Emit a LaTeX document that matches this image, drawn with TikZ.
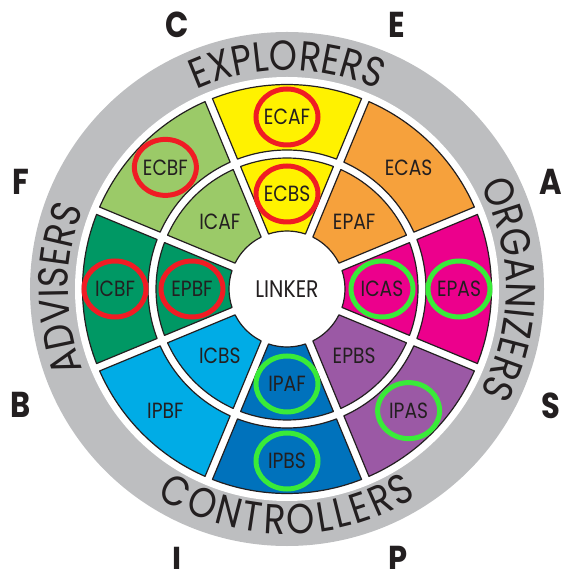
\documentclass[tikz,border=0pt]{standalone}
\usepackage{fontspec}
\usepackage{tikz}
\usetikzlibrary{decorations.text}

\setmainfont{Poppins}[FakeStretch=0.85]

\definecolor{inkblack}{RGB}{35,31,32}
\definecolor{ringgray}{RGB}{189,190,192}
\definecolor{segyellow}{RGB}{255,242,0}
\definecolor{segorange}{RGB}{246,161,60}
\definecolor{segmagenta}{RGB}{236,0,140}
\definecolor{segpurple}{RGB}{155,89,165}
\definecolor{segdarkblue}{RGB}{0,114,188}
\definecolor{seglightblue}{RGB}{0,172,230}
\definecolor{segdarkgreen}{RGB}{0,152,100}
\definecolor{seglightgreen}{RGB}{155,202,104}
\definecolor{markred}{RGB}{240,28,36}
\definecolor{markgreen}{RGB}{57,235,57}

% half of the white gap between two cells
\newcommand{\gap}{4}

% one cell of the wheel: mid angle, inner radius, outer radius, colour
\newcommand{\ringsector}[4]{%
  \pgfmathsetmacro{\ai}{asin(\gap/#2)}%
  \pgfmathsetmacro{\ao}{asin(\gap/#3)}%
  \pgfmathsetmacro{\sa}{#1-22.5+\ai}%
  \pgfmathsetmacro{\ea}{#1+22.5-\ai}%
  \pgfmathsetmacro{\sb}{#1+22.5-\ao}%
  \pgfmathsetmacro{\eb}{#1-22.5+\ao}%
  \filldraw[sector, fill=#4] (\sa:#2) arc[start angle=\sa, end angle=\ea, radius=#2]
    -- (\sb:#3) arc[start angle=\sb, end angle=\eb, radius=#3] -- cycle;
}

\begin{document}
\begin{tikzpicture}[x=1pt, y=1pt,
    sector/.style={draw=inkblack, line width=1.2pt, line join=round},
    cell/.style={font=\fontsize{22}{22}\selectfont, text=inkblack, inner sep=0pt},
    compass/.style={font=\bfseries\fontsize{36}{36}\selectfont, text=inkblack, inner sep=0pt},
    redmark/.style={draw=markred, line width=5pt},
    greenmark/.style={draw=markgreen, line width=5pt},
    ringtext/.style={decorate, decoration={text along path, text align=center,
      text format delimiters={|}{|}}}
  ]

  \useasboundingbox (-287,-280) rectangle (275,289);

  % outer grey band
  \fill[ringgray] (0,0) circle[radius=257];
  \fill[white] (0,0) circle[radius=212];

  % the two rings of cells and their names
  \foreach \ang/\col/\innertext/\outertext in {90/segyellow/ECBS/ECAF,
      45/segorange/EPAF/ECAS, 0/segmagenta/ICAS/EPAS, -45/segpurple/EPBS/IPAS,
      -90/segdarkblue/IPAF/IPBS, -135/seglightblue/ICBS/IPBF,
      180/segdarkgreen/EPBF/ICBF, 135/seglightgreen/ICAF/ECBF} {
    \ringsector{\ang}{139}{204.5}{\col}
    \ringsector{\ang}{58}{131}{\col}
    \node[cell] (\outertext) at (\ang:172) {\outertext};
    \node[cell] (\innertext) at (\ang:95) {\innertext};
  }

  \node[cell, font=\fontsize{24}{24}\selectfont] (linker) at (0,0) {LINKER};

  % marked cells
  \foreach \n in {ECAF, ECBS, ECBF, ICBF, EPBF}
    \draw[redmark] (\n) ellipse[x radius=31, y radius=28];
  \foreach \n in {ICAS, EPAS, IPAF, IPBS, IPAS}
    \draw[greenmark] (\n) ellipse[x radius=31, y radius=28];

  % names in the grey band
  \path[ringtext, decoration={text={|\fontsize{42}{42}\selectfont\color{inkblack}|EXPLORERS}}]
    (135:219) arc[start angle=135, end angle=45, radius=219];
  \path[ringtext, decoration={text={|\fontsize{42}{42}\selectfont\color{inkblack}|ORGANIZERS}}]
    (45:219) arc[start angle=45, end angle=-45, radius=219];
  \path[ringtext, decoration={text={|\fontsize{42}{42}\selectfont\color{inkblack}|ADVISERS}}]
    (225:219) arc[start angle=225, end angle=135, radius=219];
  \path[ringtext, decoration={text align=fit to path,
      text={|\fontsize{42}{42}\selectfont\color{inkblack}|CONTROLLERS}}]
    (-122:245) arc[start angle=-122, end angle=-58, radius=245];

  % letters round the wheel
  \node[compass] (compC) at (-110,264) {C};
  \node[compass] (compE) at (110,264) {E};
  \node[compass] (compF) at (-266,107) {F};
  \node[compass] (compA) at (264,107) {A};
  \node[compass] (compB) at (-266,-116) {B};
  \node[compass] (compS) at (264,-117) {S};
  \node[compass] (compI) at (-110,-271) {I};
  \node[compass] (compP) at (111,-270) {P};

\end{tikzpicture}
\end{document}
